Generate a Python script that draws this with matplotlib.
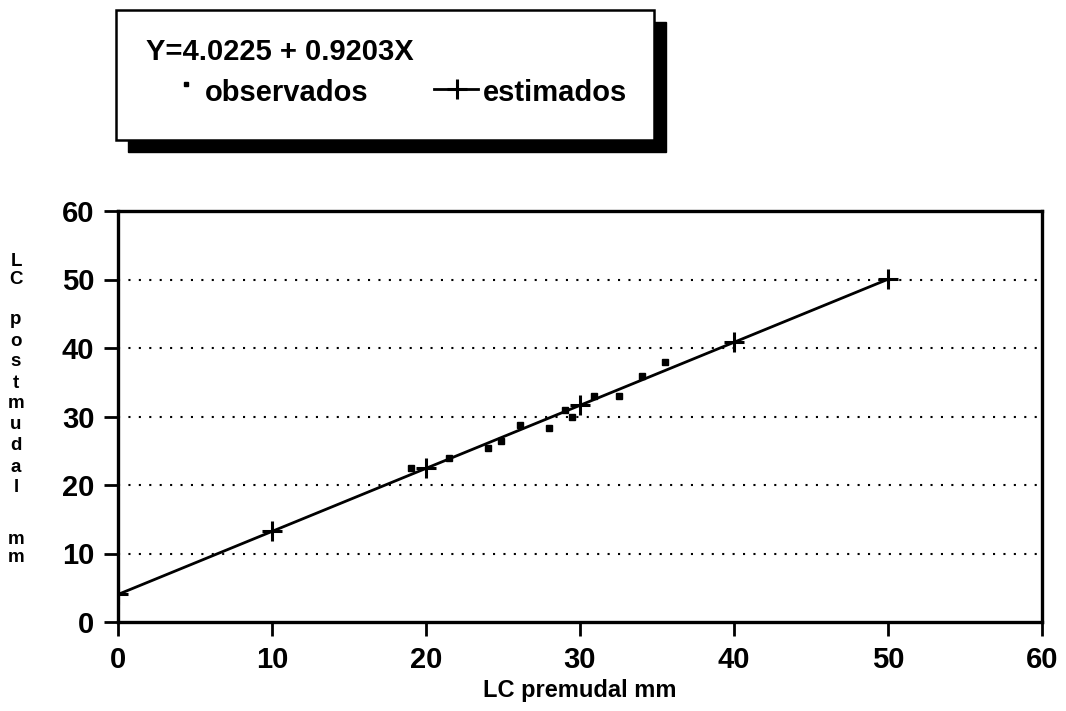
import matplotlib
matplotlib.use("Agg")
import matplotlib.pyplot as plt
import numpy as np
from matplotlib.patches import Rectangle
from matplotlib.lines import Line2D

plt.rcParams['font.family'] = ['Liberation Sans', 'DejaVu Sans']
plt.rcParams['font.weight'] = 'bold'

# Data
obs_x = [19.0, 21.5, 24.0, 24.9, 26.1, 28.0, 29.0, 29.5, 30.9, 32.5, 34.0, 35.5]
obs_y = [22.5, 23.9, 25.4, 26.4, 28.8, 28.3, 30.9, 29.9, 33.0, 33.0, 35.9, 37.9]
est_x = [0, 10, 20, 30, 40, 50]
intercept = 4.0225
slope = 0.9203
est_y = [intercept + slope * v for v in est_x]
xticks = [0, 10, 20, 30, 40, 50, 60]
yticks = [0, 10, 20, 30, 40, 50, 60]
grid_levels = [10, 20, 30, 40, 50]
equation = "Y=4.0225 + 0.9203X"
xlabel = "LC premudal mm"
ylabel_letters = ["L", "C", "", "p", "o", "s", "t", "m", "u", "d", "a", "l", "", "m", "m"]

W, H = 1066, 711
fig = plt.figure(figsize=(W / 100, H / 100), dpi=100)
ax = fig.add_axes([118 / W, 1 - 622 / H, (1042 - 118) / W, (622 - 211) / H])

for g in grid_levels:
    ax.axhline(g, color='black', lw=1.5, linestyle=(0, (1, 4)), zorder=1)

ax.plot(est_x, est_y, color='black', lw=2.0, marker='+', markersize=15,
        markeredgewidth=2.2, zorder=3)
ax.plot(obs_x, obs_y, linestyle='none', marker='s', markersize=4,
        color='black', zorder=4)

ax.set_xlim(0, 60)
ax.set_ylim(0, 60)
ax.set_xticks(xticks)
ax.set_yticks(yticks)
ax.set_xticklabels([str(t) for t in xticks], fontsize=21, fontweight='bold')
ax.set_yticklabels([str(t) for t in yticks], fontsize=21, fontweight='bold')
ax.tick_params(axis='both', direction='out', length=10, width=2, pad=7)
for s in ax.spines.values():
    s.set_linewidth(2.4)
ax.set_xlabel(xlabel, fontsize=17, fontweight='bold', labelpad=4)

# vertical stacked y label
step_positions = [262, 279, None, 320, 341, 362, 383, 404, 425, 446, 467, 488, None, 539, 557]
for letter, yp in zip(ylabel_letters, step_positions):
    if letter and yp is not None:
        fig.text(16 / W, 1 - yp / H, letter, fontsize=13.5, fontweight='bold',
                 ha='center', va='center')

# legend box with shadow
bx0, by0, bx1, by1 = 116, 10, 654, 140
sh = 12
fig.patches.append(Rectangle(((bx0 + sh) / W, 1 - (by1 + sh) / H),
                             (bx1 - bx0) / W, (by1 - by0) / H,
                             transform=fig.transFigure, facecolor='black',
                             edgecolor='black', zorder=1))
fig.patches.append(Rectangle((bx0 / W, 1 - by1 / H), (bx1 - bx0) / W, (by1 - by0) / H,
                             transform=fig.transFigure, facecolor='white',
                             edgecolor='black', lw=1.8, zorder=2))
fig.text(146 / W, 1 - 52 / H, equation, fontsize=21, fontweight='bold',
         ha='left', va='center', zorder=3)
fig.add_artist(Line2D([186 / W], [1 - 84 / H], marker='s', markersize=3.5,
                      color='black', transform=fig.transFigure, zorder=3))
fig.text(205 / W, 1 - 93 / H, "observados", fontsize=21, fontweight='bold',
         ha='left', va='center', zorder=3)
fig.add_artist(Line2D([434 / W, 478 / W], [1 - 89 / H, 1 - 89 / H], color='black',
                      lw=2.0, transform=fig.transFigure, zorder=3))
fig.add_artist(Line2D([457 / W], [1 - 89 / H], marker='+', markersize=15,
                      markeredgewidth=2.2, color='black',
                      transform=fig.transFigure, zorder=3))
fig.text(483 / W, 1 - 93 / H, "estimados", fontsize=21, fontweight='bold',
         ha='left', va='center', zorder=3)

fig.savefig("out.png", dpi=100)
